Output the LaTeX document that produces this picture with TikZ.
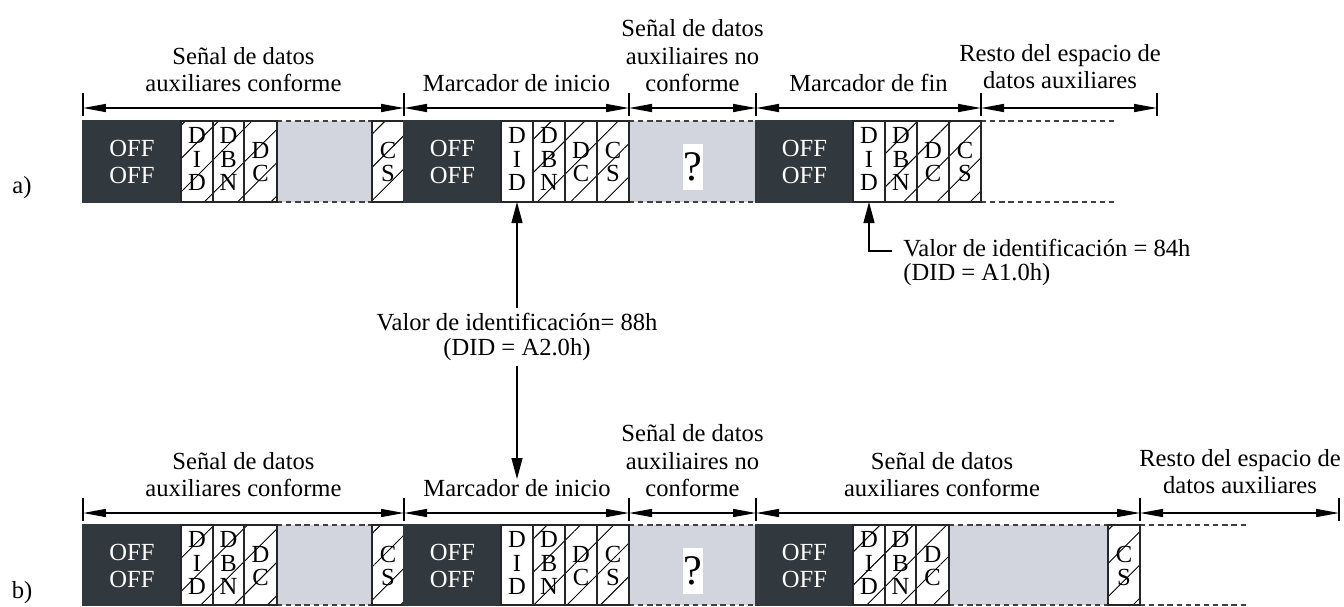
\documentclass[tikz,border=0pt]{standalone}
\usepackage{fontspec}
\setmainfont{Liberation Serif}
\usetikzlibrary{arrows.meta,patterns.meta}

\definecolor{offgray}{RGB}{50,57,62}
\definecolor{gapgray}{RGB}{210,213,221}

\tikzset{
  offbox/.style={fill=offgray, draw=offgray, line width=0.6pt},
  cellbox/.style={draw=black!85, line width=0.6pt, fill=white},
  hatchbox/.style={draw=black!85, line width=0.6pt, pattern={Lines[angle=45,distance=13.4pt,line width=0.55pt]}},
  gapline/.style={draw=black!75, line width=0.6pt, dash pattern=on 3pt off 2.2pt},
  tickmark/.style={line width=0.6pt},
  dimline/.style={<->, line width=0.8pt},
  idarrow/.style={-{Triangle[length=0.42cm,width=0.22cm]}, line width=0.7pt},
  lbl/.style={align=center, inner sep=0pt, anchor=south, font=\fontsize{14}{15.6}\selectfont},
  stack/.style={align=center, inner sep=0pt, font=\fontsize{14}{13.2}\selectfont},
  offtext/.style={align=center, inner sep=0pt, text=white, font=\fontsize{14}{15}\selectfont},
  note/.style={inner sep=3pt, font=\fontsize{14}{14}\selectfont},
}

\begin{document}
\begin{tikzpicture}[x=0.02cm, y=-0.02cm, >={Triangle[length=0.46cm,width=0.16cm]}]
    \useasboundingbox (0,0) rectangle (1344,606);

    % row a
    \node[font=\fontsize{14}{15}\selectfont] (rowA) at (22,188) {a)};

    \fill[gapgray] (277,121) rectangle (372,202);
    \draw[gapline] (277,121) -- (372,121);
    \draw[gapline] (277,202) -- (372,202);
    \fill[gapgray] (629,121) rectangle (756,202);
    \draw[gapline] (629,121) -- (756,121);
    \draw[gapline] (629,202) -- (756,202);
    \draw[gapline] (981,121) -- (1117,121);
    \draw[gapline] (981,202) -- (1117,202);

    \draw[offbox] (83,121) rectangle (181,202);
    \node[offtext] (aOff1) at (132,162) {OFF\\OFF};
    \draw[hatchbox] (181,121) rectangle (213,202);
    \node[stack] (aDid1) at (197,159) {D\\I\\D};
    \draw[hatchbox] (213,121) rectangle (244,202);
    \node[stack] (aDbn1) at (228.5,159) {D\\B\\N};
    \draw[hatchbox] (244,121) rectangle (277,202);
    \node[stack] (aDc1) at (260.5,162) {D\\C};
    \draw[hatchbox] (372,121) rectangle (404,202);
    \node[stack] (aCs1) at (388,162) {C\\S};

    \draw[offbox] (404,121) rectangle (501,202);
    \node[offtext] (aOff2) at (452.5,162) {OFF\\OFF};
    \draw[cellbox] (501,121) rectangle (533,202);
    \node[stack] (aDid2) at (517,159) {D\\I\\D};
    \draw[hatchbox] (533,121) rectangle (565,202);
    \node[stack] (aDbn2) at (549,159) {D\\B\\N};
    \draw[hatchbox] (565,121) rectangle (597,202);
    \node[stack] (aDc2) at (581,162) {D\\C};
    \draw[hatchbox] (597,121) rectangle (629,202);
    \node[stack] (aCs2) at (613,162) {C\\S};
    \node[fill=white, inner sep=0pt, minimum width=0.4cm, minimum height=0.92cm,
          font=\fontsize{24}{24}\selectfont] (aQ) at (692.5,167) {?};

    \draw[offbox] (756,121) rectangle (853,202);
    \node[offtext] (aOff3) at (804.5,162) {OFF\\OFF};
    \draw[cellbox] (853,121) rectangle (885,202);
    \node[stack] (aDid3) at (869,159) {D\\I\\D};
    \draw[hatchbox] (885,121) rectangle (917,202);
    \node[stack] (aDbn3) at (901,159) {D\\B\\N};
    \draw[hatchbox] (917,121) rectangle (949,202);
    \node[stack] (aDc3) at (933,162) {D\\C};
    \draw[hatchbox] (949,121) rectangle (981,202);
    \node[stack] (aCs3) at (965,162) {C\\S};

    \draw[tickmark] (83,93) -- (83,116);
    \draw[tickmark] (404,93) -- (404,116);
    \draw[tickmark] (629,93) -- (629,116);
    \draw[tickmark] (756,93) -- (756,116);
    \draw[tickmark] (981,93) -- (981,116);
    \draw[tickmark] (1157,93) -- (1157,116);

    \coordinate (aT0) at (83,108);
    \coordinate (aT1) at (404,108);
    \coordinate (aT2) at (629,108);
    \coordinate (aT3) at (756,108);
    \coordinate (aT4) at (981,108);
    \coordinate (aT5) at (1157,108);
    \draw[dimline] (aT0) -- (aT1);
    \draw[dimline] (aT1) -- (aT2);
    \draw[dimline] (aT2) -- (aT3);
    \draw[dimline] (aT3) -- (aT4);
    \draw[dimline] (aT4) -- (aT5);

    \node[lbl] (aSig) at (243.5,92) {Señal de datos\\auxiliares conforme};
    \node[lbl] (aIni) at (516.5,92) {Marcador de inicio};
    \node[lbl] (aNoc) at (692.5,92) {Señal de datos\\auxiliaires no\\conforme};
    \node[lbl] (aFin) at (868.5,92) {Marcador de fin};
    \node[lbl] (aRest) at (1060,89.5) {Resto del espacio de\\datos auxiliares};

    % identificacion
    \coordinate (aDid2b) at (517,202);
    \coordinate (aDid3b) at (869,202);
    \node[note, align=center] (valA) at (517,337) {Valor de identificación= 88h\\(DID = A2.0h)};
    \node[note, anchor=base west, inner xsep=0.22cm, inner ysep=0pt] (valB1) at (892,256.5) {Valor de identificación = 84h};
    \node[note, anchor=base west, inner xsep=0.22cm, inner ysep=0pt] (valB2) at (892,280.5) {(DID = A1.0h)};

    % row b
    \node[font=\fontsize{14}{15}\selectfont] (rowB) at (22,593) {b)};

    \fill[gapgray] (277,525) rectangle (372,605);
    \draw[gapline] (277,525) -- (372,525);
    \draw[gapline] (277,605) -- (372,605);
    \fill[gapgray] (629,525) rectangle (756,605);
    \draw[gapline] (629,525) -- (756,525);
    \draw[gapline] (629,605) -- (756,605);
    \fill[gapgray] (949,525) rectangle (1108,605);
    \draw[gapline] (949,525) -- (1108,525);
    \draw[gapline] (949,605) -- (1108,605);
    \draw[gapline] (1140,525) -- (1246,525);
    \draw[gapline] (1140,605) -- (1246,605);

    \draw[offbox] (83,525) rectangle (181,605);
    \node[offtext] (bOff1) at (132,566) {OFF\\OFF};
    \draw[hatchbox] (181,525) rectangle (213,605);
    \node[stack] (bDid1) at (197,563) {D\\I\\D};
    \draw[hatchbox] (213,525) rectangle (244,605);
    \node[stack] (bDbn1) at (228.5,563) {D\\B\\N};
    \draw[hatchbox] (244,525) rectangle (277,605);
    \node[stack] (bDc1) at (260.5,566) {D\\C};
    \draw[hatchbox] (372,525) rectangle (404,605);
    \node[stack] (bCs1) at (388,566) {C\\S};

    \draw[offbox] (404,525) rectangle (501,605);
    \node[offtext] (bOff2) at (452.5,566) {OFF\\OFF};
    \draw[cellbox] (501,525) rectangle (533,605);
    \node[stack] (bDid2) at (517,563) {D\\I\\D};
    \draw[hatchbox] (533,525) rectangle (565,605);
    \node[stack] (bDbn2) at (549,563) {D\\B\\N};
    \draw[hatchbox] (565,525) rectangle (597,605);
    \node[stack] (bDc2) at (581,566) {D\\C};
    \draw[hatchbox] (597,525) rectangle (629,605);
    \node[stack] (bCs2) at (613,566) {C\\S};
    \node[fill=white, inner sep=0pt, minimum width=0.4cm, minimum height=0.92cm,
          font=\fontsize{24}{24}\selectfont] (bQ) at (692.5,571) {?};

    \draw[offbox] (756,525) rectangle (853,605);
    \node[offtext] (bOff3) at (804.5,566) {OFF\\OFF};
    \draw[hatchbox] (853,525) rectangle (885,605);
    \node[stack] (bDid3) at (869,563) {D\\I\\D};
    \draw[hatchbox] (885,525) rectangle (916,605);
    \node[stack] (bDbn3) at (900.5,563) {D\\B\\N};
    \draw[hatchbox] (916,525) rectangle (949,605);
    \node[stack] (bDc3) at (932.5,566) {D\\C};
    \draw[hatchbox] (1108,525) rectangle (1140,605);
    \node[stack] (bCs3) at (1124,566) {C\\S};

    \draw[tickmark] (83,498) -- (83,521);
    \draw[tickmark] (404,498) -- (404,521);
    \draw[tickmark] (629,498) -- (629,521);
    \draw[tickmark] (756,498) -- (756,521);
    \draw[tickmark] (1140,498) -- (1140,521);
    \draw[tickmark] (1339,498) -- (1339,521);

    \coordinate (bT0) at (83,513);
    \coordinate (bT1) at (404,513);
    \coordinate (bT2) at (629,513);
    \coordinate (bT3) at (756,513);
    \coordinate (bT4) at (1140,513);
    \coordinate (bT5) at (1339,513);
    \draw[dimline] (bT0) -- (bT1);
    \draw[dimline] (bT1) -- (bT2);
    \draw[dimline] (bT2) -- (bT3);
    \draw[dimline] (bT3) -- (bT4);
    \draw[dimline] (bT4) -- (bT5);

    \node[lbl] (bSig) at (243.5,497) {Señal de datos\\auxiliares conforme};
    \node[lbl] (bIni) at (517,497) {Marcador de inicio};
    \node[lbl] (bNoc) at (692.5,497) {Señal de datos\\auxiliaires no\\conforme};
    \node[lbl] (bSig2) at (942,497) {Señal de datos\\auxiliares conforme};
    \node[lbl] (bRest) at (1240,494) {Resto del espacio de\\datos auxiliares};

    % arrows
    \draw[idarrow] (valA.north) -- (aDid2b);
    \draw[idarrow] (valA.south) -- (bIni.north);
    \draw[idarrow] ([yshift=-0.06cm]valB1.west) -| (aDid3b);

\end{tikzpicture}
\end{document}
